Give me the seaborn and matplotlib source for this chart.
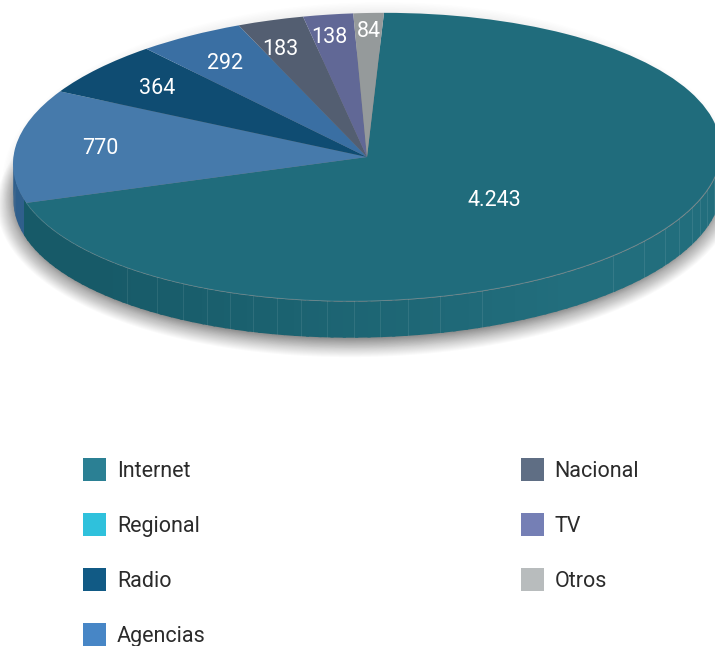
import numpy as np
import matplotlib
matplotlib.use("Agg")
import matplotlib.pyplot as plt
from matplotlib.patches import Ellipse, Patch
from matplotlib.transforms import Affine2D
import seaborn as sns

categories = ["Internet", "Regional", "Radio", "Agencias", "Nacional", "TV", "Otros"]
values = [4243, 770, 364, 292, 183, 138, 84]
value_labels = ["4.243", "770", "364", "292", "183", "138", "84"]
face_colors = ["#206c7c", "#467aab", "#0f4c72", "#3a6fa3", "#535e71", "#616896", "#959a9b"]
legend_colors = ["#2b8094", "#2fc1dc", "#115a85", "#4786c6", "#5f6e84", "#757fb5", "#b8bcbd"]
label_radii = [0.48, 0.76, 0.78, 0.78, 0.80, 0.84, 0.87]
label_angle_shift = [-3, 0, 0, 1, 2, 1, 0]
seam_pixels = [127, 157, 183, 207, 230, 253, 277, 301, 327, 354, 380, 408, 440, 482,
               613, 644, 665, 679, 692, 700, 707, 714]

W, H = 715, 646
CX, CY, RX, RY, DEPTH = 367, 157, 354, 144, 36
SHEAR = 0.049  # slight tilt of the pie's ellipse

sns.set_theme(style="white")
plt.rcParams["font.family"] = ["Roboto", "DejaVu Sans"]

fig = plt.figure(figsize=(W / 100, H / 100), dpi=100, facecolor="white")
ax = fig.add_axes([0, 0, 1, 1])

wedges, _ = ax.pie(values, colors=sns.color_palette(face_colors), startangle=87.25,
                   counterclock=False, radius=1, wedgeprops=dict(linewidth=0, zorder=3))
ax.set_aspect("auto")
ax.set_xlim(-CX / RX, (W - CX) / RX)
ax.set_ylim(-(H - CY) / RY, CY / RY)
ax.axis("off")
d = DEPTH / RY
tilt = Affine2D.from_values(1, SHEAR, 0, 1, 0, 0)
for w in wedges:
    w.set_transform(tilt + ax.transData)

def tilted(x, y):
    return y + SHEAR * np.asarray(x)

# soft shadow below the wall, faint halo round the disc
n = 26
for i in range(n):
    g = -5 + 21 * (i / (n - 1)) ** 1.2
    e = Ellipse((0, -d - 4 / RY), 2 * (1 + g / RX), 2 * (1 + g / RY),
                color="black", alpha=0.021, lw=0, zorder=1)
    e.set_transform(tilt + ax.transData)
    ax.add_patch(e)
for i in range(8):
    g = 1 + i * 1.4
    e = Ellipse((0, -d / 2), 2 * (1 + g / RX), 2 * (1 + d / 2 + g / RY),
                color="black", alpha=0.009, lw=0, zorder=1)
    e.set_transform(tilt + ax.transData)
    ax.add_patch(e)

def wall_color(theta, regional):
    t = (np.cos(theta) + 1) / 2
    a, b = (("#2f5f8c", "#2f5f8c") if regional else ("#175a68", "#226e7d"))
    ca, cb = np.array(matplotlib.colors.to_rgb(a)), np.array(matplotlib.colors.to_rgb(b))
    return tuple(ca + (cb - ca) * min(1, max(0, (t - 0.12) * 1.5)))

# side wall: painted left to right with overlap so no stripes appear between pieces
split = wedges[0].theta1 % 360
edges = np.unique(np.r_[np.radians(np.arange(170, 371, 2.0)), np.radians(split)])
order = np.argsort(np.abs(np.radians(270) - edges[:-1]))[::-1]
for k in order:
    t0, t1 = edges[k], edges[k + 1]
    th = np.linspace(t0, t1 + np.radians(0.5), 6)
    col = wall_color((t0 + t1) / 2, np.degrees(t1) <= split + 1e-6)
    x = np.cos(th)
    y = tilted(x, np.sin(th))
    ax.fill_between(x, y, y - d, color=col, lw=0, zorder=2)

# faint seams of the wall and rim
for s in seam_pixels:
    x = (s - CX) / RX
    y = tilted(x, -np.sqrt(max(0, 1 - x * x)))
    ax.plot([x, x], [y, y - d], color="white", alpha=0.09, lw=0.7, zorder=2.5)
th = np.radians(np.linspace(split, 372, 300))
ax.plot(np.cos(th), tilted(np.cos(th), np.sin(th)), color="white", alpha=0.13, lw=0.7, zorder=3.1)

fs_lab = 15.5
for w, lab, r, shift in zip(wedges, value_labels, label_radii, label_angle_shift):
    mid = np.radians((w.theta1 + w.theta2) / 2 + shift)
    x, y = r * np.cos(mid), r * np.sin(mid)
    ax.text(x, tilted(x, y), lab, color="white", fontsize=fs_lab,
            ha="center", va="center", zorder=4)

fs = 15.5
px_em = fs * 100 / 72
handles = [Patch(facecolor=c, edgecolor="none") for c in sns.color_palette(legend_colors)]
leg = fig.legend(handles, categories, ncol=2, loc="upper left",
                 bbox_to_anchor=(83 / W, 1 - 458 / H), bbox_transform=fig.transFigure,
                 frameon=False, fontsize=fs, borderpad=0, borderaxespad=0,
                 handlelength=23 / px_em, handleheight=1.27,
                 handletextpad=11 / px_em, labelspacing=31.3 / px_em,
                 columnspacing=315 / px_em, labelcolor="#2b2b2b")
fig.savefig("out.png", dpi=100, facecolor="white")
